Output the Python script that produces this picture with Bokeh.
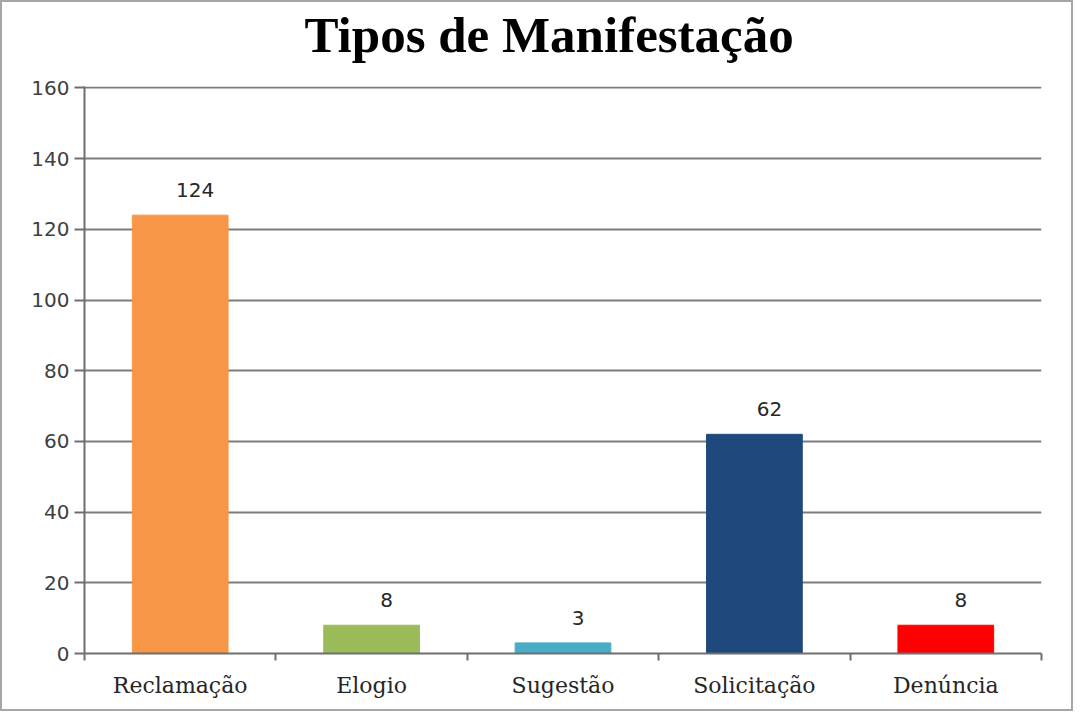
from bokeh.plotting import figure
from bokeh.models import Range1d, FixedTicker, LabelSet, ColumnDataSource, Title
from bokeh.core.properties import value
from bokeh.embed import file_html
from bokeh.resources import INLINE

categories = ["Reclamação", "Elogio", "Sugestão", "Solicitação", "Denúncia"]
values = [124, 8, 3, 62, 8]
colors = ["#F79646", "#9BBB59", "#4BACC6", "#1F497D", "#FF0000"]
y_ticks = [0, 20, 40, 60, 80, 100, 120, 140, 160]
title_text = "Tipos de Manifestação"

xs = [i + 0.5 for i in range(len(categories))]
src = ColumnDataSource(dict(x=xs, top=values, color=colors, label=[str(v) for v in values]))

p = figure(width=1073, height=711, output_backend="svg", toolbar_location=None,
           x_range=Range1d(0, len(categories)), y_range=Range1d(0, 160.4),
           min_border_left=82, min_border_right=34, min_border_top=84, min_border_bottom=60)
p.styles = {"border": "2px solid #a6a6a6"}

# spacer between title and plot area
p.add_layout(Title(text=" ", text_font_size="20px", standoff=0, text_color="white"), "above")
p.add_layout(Title(text=title_text, align="left", offset=220, standoff=0,
                   text_font="Liberation Serif", text_font_style="bold",
                   text_font_size="51px", text_color="#000000"), "above")

p.outline_line_color = None
p.background_fill_color = "white"
p.border_fill_color = "white"

p.vbar(x="x", top="top", bottom=0, width=0.5, color="color", source=src)

labels = LabelSet(x="x", y="top", text="label", source=src, x_offset=15, y_offset=18,
                  text_align="center", text_baseline="bottom",
                  text_font=value("DejaVu Sans"), text_font_size=value("20px"),
                  text_color="#262626")
p.add_layout(labels)

# grid
p.xgrid.grid_line_color = None
p.ygrid.ticker = FixedTicker(ticks=y_ticks)
p.ygrid.grid_line_color = "#7d7d7d"
p.ygrid.grid_line_width = 2

# y axis
p.yaxis.ticker = FixedTicker(ticks=y_ticks)
p.yaxis.axis_line_color = "#6e6e6e"
p.yaxis.axis_line_width = 2
p.yaxis.major_tick_out = 10
p.yaxis.major_tick_in = 0
p.yaxis.major_tick_line_color = "#6e6e6e"
p.yaxis.major_tick_line_width = 2
p.yaxis.minor_tick_line_color = None
p.yaxis.major_label_text_font = "DejaVu Sans"
p.yaxis.major_label_text_font_size = "20px"
p.yaxis.major_label_text_color = "#404040"
p.yaxis.major_label_standoff = 5

# x axis
p.xaxis.ticker = FixedTicker(ticks=xs, minor_ticks=list(range(len(categories) + 1)))
p.xaxis.major_label_overrides = {x: c for x, c in zip(xs, categories)}
p.xaxis.axis_line_color = "#6e6e6e"
p.xaxis.axis_line_width = 2
p.xaxis.major_tick_line_color = None
p.xaxis.minor_tick_out = 7
p.xaxis.minor_tick_in = 0
p.xaxis.minor_tick_line_color = "#6e6e6e"
p.xaxis.minor_tick_line_width = 2
p.xaxis.major_label_text_font = "DejaVu Serif"
p.xaxis.major_label_text_font_size = "22px"
p.xaxis.major_label_text_color = "#262626"
p.xaxis.major_label_standoff = 12

open("out.html", "w").write(file_html(p, INLINE))
